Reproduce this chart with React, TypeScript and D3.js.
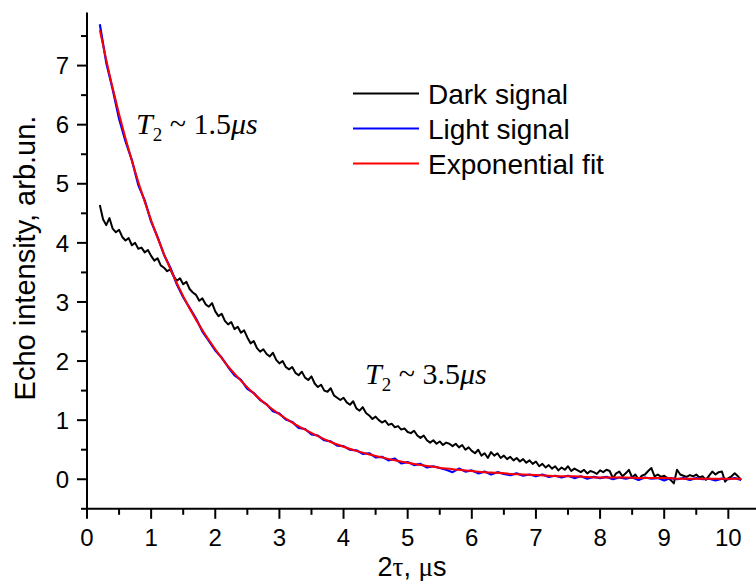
import React from 'react';
import * as d3 from 'd3';

// ---- data ----
const xTickValues = [0, 1, 2, 3, 4, 5, 6, 7, 8, 9, 10];
const yTickValues = [0, 1, 2, 3, 4, 5, 6, 7];
const xMinorValues = [0.5, 1.5, 2.5, 3.5, 4.5, 5.5, 6.5, 7.5, 8.5, 9.5];
const yMinorValues = [-0.5, 0.5, 1.5, 2.5, 3.5, 4.5, 5.5, 6.5, 7.5];

// Dark signal: sampled every 0.05 us from 0.2 us
const darkStart = 0.2;
const darkStep = 0.05;
const darkSignal = [
  4.64, 4.40, 4.30, 4.42, 4.24, 4.18, 4.22, 4.10, 4.04, 4.08,
  3.96, 4.00, 3.90, 3.92, 3.84, 3.88, 3.78, 3.70, 3.74, 3.62,
  3.58, 3.52, 3.55, 3.44, 3.36, 3.40, 3.30, 3.34, 3.22, 3.16,
  3.12, 3.02, 3.06, 2.96, 2.92, 2.98, 2.84, 2.76, 2.80, 2.68,
  2.62, 2.66, 2.54, 2.58, 2.48, 2.52, 2.40, 2.30, 2.34, 2.22,
  2.16, 2.20, 2.12, 2.08, 2.14, 2.02, 1.96, 2.00, 1.90, 1.86,
  1.90, 1.80, 1.76, 1.82, 1.72, 1.68, 1.74, 1.62, 1.56, 1.60,
  1.50, 1.48, 1.54, 1.42, 1.38, 1.34, 1.38, 1.30, 1.26, 1.32,
  1.20, 1.16, 1.22, 1.12, 1.08, 1.02, 1.06, 1.00, 0.96, 0.99,
  0.92, 0.94, 0.88, 0.90, 0.84, 0.86, 0.80, 0.78, 0.82, 0.74,
  0.70, 0.74, 0.66, 0.62, 0.66, 0.60, 0.64, 0.58, 0.62, 0.60,
  0.56, 0.60, 0.54, 0.58, 0.50, 0.54, 0.48, 0.44, 0.50, 0.40,
  0.44, 0.36, 0.46, 0.40, 0.44, 0.36, 0.40, 0.34, 0.38, 0.32,
  0.36, 0.30, 0.34, 0.28, 0.32, 0.26, 0.30, 0.22, 0.26, 0.20,
  0.24, 0.18, 0.22, 0.15, 0.20, 0.16, 0.22, 0.14, 0.18, 0.15,
  0.12, 0.16, 0.10, 0.14, 0.12, 0.09, 0.15, 0.12, 0.16, 0.14,
  0.02, 0.10, 0.13, 0.05, 0.10, 0.16, 0.03, 0.08, -0.01, 0.06,
  0.08, 0.14, 0.19, 0.05, 0.08, 0.04, 0.06, 0.02, -0.01, -0.07,
  0.16, 0.08, 0.06, 0.04, 0.07, 0.05, 0.08, 0.03, 0.05, -0.01,
  0.06, 0.13, 0.08, 0.12, 0.13, -0.04, 0.02, 0.05, 0.10, 0.05,
  -0.01,
];

// Light signal: sampled every 0.1 us from 0.2 us
const lightStart = 0.2;
const lightStep = 0.1;
const lightSignal = [
  7.70, 7.05, 6.60, 6.10, 5.72, 5.40, 4.98, 4.72, 4.36, 4.10,
  3.80, 3.58, 3.30, 3.08, 2.90, 2.72, 2.50, 2.34, 2.18, 2.06,
  1.90, 1.76, 1.68, 1.53, 1.46, 1.34, 1.27, 1.15, 1.11, 1.01,
  0.97, 0.87, 0.85, 0.76, 0.74, 0.66, 0.64, 0.57, 0.56, 0.50,
  0.49, 0.43, 0.44, 0.37, 0.38, 0.32, 0.35, 0.27, 0.29, 0.24,
  0.26, 0.20, 0.22, 0.19, 0.16, 0.12, 0.18, 0.13, 0.15, 0.10,
  0.13, 0.08, 0.12, 0.09, 0.07, 0.10, 0.06, 0.08, 0.05, 0.08,
  0.04, 0.06, 0.03, 0.06, 0.02, 0.05, 0.01, 0.04, 0.02, 0.04,
  0.00, 0.03, 0.01, 0.03, -0.01, 0.03, 0.01, 0.02, -0.02, 0.02,
  0.00, 0.02, -0.01, 0.02, 0.00, 0.01, -0.02, 0.01, 0.00, 0.02,
  -0.01,
];

// Exponential fit: sampled every 0.2 us from 0.2 us
const fitStart = 0.2;
const fitStep = 0.2;
const fitCurve = [
  7.60, 6.62, 5.77, 5.03, 4.38, 3.81, 3.32, 2.89, 2.52, 2.20,
  1.91, 1.67, 1.45, 1.26, 1.10, 0.96, 0.84, 0.73, 0.63, 0.55,
  0.48, 0.42, 0.37, 0.32, 0.28, 0.24, 0.21, 0.18, 0.16, 0.14,
  0.12, 0.11, 0.09, 0.08, 0.07, 0.06, 0.05, 0.05, 0.04, 0.03,
  0.03, 0.03, 0.02, 0.02, 0.02, 0.01, 0.01, 0.01, 0.01, 0.01,
  0.01,
];

const legendLabels = ['Dark signal', 'Light signal', 'Exponential fit'];
const seriesColors = ['#000000', '#0000ff', '#ff0000'];

type Pt = [number, number];
const toPts = (vals: number[], start: number, step: number): Pt[] =>
  vals.map((v, i) => [start + i * step, v]);

export default function App() {
  const W = 756;
  const H = 581;
  const x = d3.scaleLinear().domain([0, 10.45]).range([87, 757.2]);
  const y = d3.scaleLinear().domain([-0.5, 7.9]).range([508.8, 12.4]);

  const line = d3
    .line<Pt>()
    .x((d) => x(d[0]))
    .y((d) => y(d[1]));
  const smooth = d3
    .line<Pt>()
    .x((d) => x(d[0]))
    .y((d) => y(d[1]))
    .curve(d3.curveMonotoneX);

  const sans = "'Liberation Sans', Arial, sans-serif";
  const serif = "'Liberation Serif', 'Times New Roman', serif";
  const x0 = x(0);
  const yBase = y(-0.5);

  return (
    <svg
      width={W}
      height={H}
      viewBox={`0 0 ${W} ${H}`}
      style={{ position: 'absolute', left: 0, top: 0, background: '#fff' }}
    >
      <rect x={0} y={0} width={W} height={H} fill="#fff" />
      {/* series */}
      <path
        d={line(toPts(darkSignal, darkStart, darkStep)) || ''}
        fill="none"
        stroke={seriesColors[0]}
        strokeWidth={2}
        strokeLinejoin="round"
      />
      <path
        d={line(toPts(lightSignal, lightStart, lightStep)) || ''}
        fill="none"
        stroke={seriesColors[1]}
        strokeWidth={2.2}
        strokeLinejoin="round"
      />
      <path
        d={smooth(toPts(fitCurve, fitStart, fitStep)) || ''}
        fill="none"
        stroke={seriesColors[2]}
        strokeWidth={2}
      />

      {/* axes */}
      <line x1={x0} x2={x0} y1={y(7.9)} y2={yBase} stroke="#000" strokeWidth={2} />
      <line x1={x0} x2={x.range()[1]} y1={yBase} y2={yBase} stroke="#000" strokeWidth={2} />
      {xTickValues.map((t) => (
        <g key={'xt' + t}>
          <line x1={x(t)} x2={x(t)} y1={yBase} y2={yBase + 10} stroke="#000" strokeWidth={2} />
          <text
            x={x(t)}
            y={546}
            textAnchor="middle"
            fontFamily={sans}
            fontSize={24}
            fill="#000"
          >
            {t}
          </text>
        </g>
      ))}
      {xMinorValues.map((t) => (
        <line key={'xm' + t} x1={x(t)} x2={x(t)} y1={yBase} y2={yBase + 6} stroke="#000" strokeWidth={2} />
      ))}
      {yTickValues.map((t) => (
        <g key={'yt' + t}>
          <line x1={x0 - 10} x2={x0} y1={y(t)} y2={y(t)} stroke="#000" strokeWidth={2} />
          <text
            x={69}
            y={y(t)}
            dy="0.36em"
            textAnchor="end"
            fontFamily={sans}
            fontSize={24}
            fill="#000"
          >
            {t}
          </text>
        </g>
      ))}
      {yMinorValues.map((t) => (
        <line key={'ym' + t} x1={x0 - 6} x2={x0} y1={y(t)} y2={y(t)} stroke="#000" strokeWidth={2} />
      ))}

      {/* axis titles */}
      <text x={412} y={576} textAnchor="middle" fontFamily={sans} fontSize={27} fill="#000">
        2<tspan fontFamily={serif}>τ</tspan>, <tspan fontFamily={serif}>μ</tspan>s
      </text>
      <text
        transform={`translate(35, 258) rotate(-90)`}
        textAnchor="middle"
        fontFamily={sans}
        fontSize={29}
        fill="#000"
      >
        Echo intensity, arb.un.
      </text>

      {/* legend */}
      {legendLabels.map((lab, i) => (
        <g key={lab}>
          <line
            x1={353}
            x2={419}
            y1={93.5 + i * 35}
            y2={93.5 + i * 35}
            stroke={seriesColors[i]}
            strokeWidth={2}
          />
          <text
            x={428}
            y={93.5 + i * 35}
            dy="0.36em"
            fontFamily={sans}
            fontSize={28}
            fill="#000"
          >
            {lab}
          </text>
        </g>
      ))}

      {/* annotations */}
      <text x={136} y={134} fontFamily={serif} fontSize={30} fill="#000">
        <tspan fontStyle="italic">T</tspan>
        <tspan fontSize={19} dy={7}>2</tspan>
        <tspan dy={-7}> ~ 1.5</tspan>
        <tspan fontStyle="italic">μs</tspan>
      </text>
      <text x={365} y={384} fontFamily={serif} fontSize={30} fill="#000">
        <tspan fontStyle="italic">T</tspan>
        <tspan fontSize={19} dy={7}>2</tspan>
        <tspan dy={-7}> ~ 3.5</tspan>
        <tspan fontStyle="italic">μs</tspan>
      </text>
    </svg>
  );
}
